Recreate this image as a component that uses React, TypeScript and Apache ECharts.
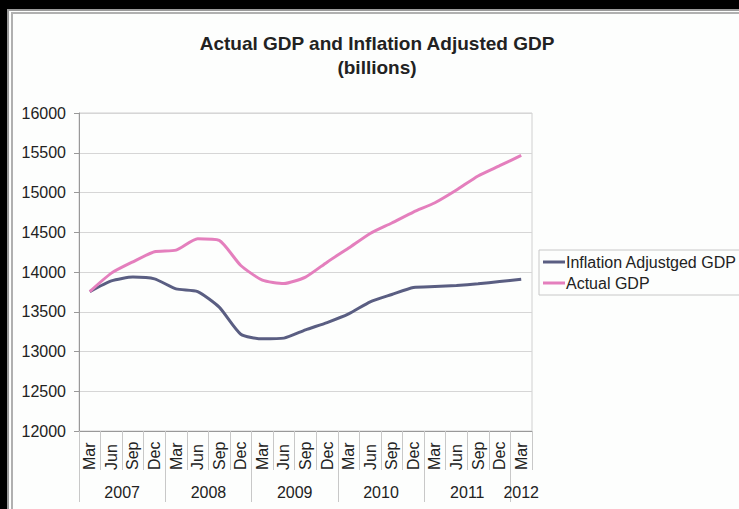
import React, { useEffect, useRef } from "react";
import * as echarts from "echarts";

const quarterLabels = [
  "Mar", "Jun", "Sep", "Dec",
  "Mar", "Jun", "Sep", "Dec",
  "Mar", "Jun", "Sep", "Dec",
  "Mar", "Jun", "Sep", "Dec",
  "Mar", "Jun", "Sep", "Dec",
  "Mar",
];
const yearLabels = ["2007", "2008", "2009", "2010", "2011", "2012"];
const quartersPerYear = [4, 4, 4, 4, 4, 1];

const inflationAdjusted = [
  13754, 13889, 13936, 13914, 13788, 13754, 13558, 13218, 13159, 13168, 13272,
  13364, 13473, 13625, 13717, 13805, 13817, 13830, 13851, 13880, 13910,
];
const actualGdp = [
  13754, 13986, 14128, 14254, 14275, 14418, 14397, 14082, 13898, 13855, 13936,
  14124, 14301, 14485, 14616, 14754, 14871, 15031, 15208, 15337, 15467,
];

// Year labels on a half-quarter grid (2 slots per quarter, 0..2N)
const nQ = quarterLabels.length;
const yearSlots: string[] = new Array(nQ * 2 + 1).fill("");
const dividerSlots = new Set<number>();
{
  let q = 0;
  yearLabels.forEach((y, i) => {
    const n = quartersPerYear[i];
    dividerSlots.add(q * 2);
    yearSlots[q * 2 + n] = y;
    q += n;
  });
}

const FONT = "'Liberation Sans', Arial, sans-serif";

export default function App() {
  const ref = useRef<HTMLDivElement>(null);
  useEffect(() => {
    if (!ref.current) return;
    const chart = echarts.init(ref.current, null, { renderer: "svg" });
    chart.setOption({
      animation: false,
      textStyle: { fontFamily: FONT },
      title: {
        text: "Actual GDP and Inflation Adjusted GDP\n(billions)",
        left: 377,
        textAlign: "center",
        top: 26,
        padding: [5, 0, 5, 0],
        textStyle: {
          fontFamily: FONT,
          fontSize: 19,
          fontWeight: "bold",
          color: "#222",
          lineHeight: 24,
        },
      },
      legend: {
        orient: "vertical",
        left: 539,
        top: 250,
        padding: [4, 6, 4, 4],
        itemGap: 5,
        itemWidth: 22,
        itemHeight: 3,
        icon: "rect",
        borderColor: "#c8c8c8",
        borderWidth: 1,
        textStyle: {
          fontFamily: FONT,
          fontSize: 16,
          color: "#222",
          lineHeight: 16,
          padding: [0, 0, 0, -4],
        },
        data: ["Inflation Adjustged GDP", "Actual GDP"],
      },
      grid: {
        left: 79,
        right: 207,
        top: 113,
        bottom: 78,
        show: true,
        borderColor: "#d0d0d0",
        borderWidth: 1,
      },
      xAxis: [
        {
          type: "category",
          data: quarterLabels,
          boundaryGap: true,
          axisLine: { show: true, lineStyle: { color: "#999", width: 1 } },
          axisTick: {
            show: true,
            interval: 0,
            length: 39,
            lineStyle: { color: "#c8c8c8" },
          },
          axisLabel: {
            interval: 0,
            rotate: 90,
            align: "left",
            verticalAlign: "middle",
            margin: 39,
            fontFamily: FONT,
            fontSize: 16,
            color: "#222",
          },
          splitLine: { show: false },
        },
        {
          type: "category",
          data: yearSlots,
          boundaryGap: false,
          position: "bottom",
          axisLine: { show: false },
          axisTick: {
            show: true,
            interval: (idx: number) => dividerSlots.has(idx),
            length: 71,
            lineStyle: { color: "#c8c8c8" },
          },
          axisLabel: {
            interval: (idx: number) => yearSlots[idx] !== "",
            margin: 53,
            fontFamily: FONT,
            fontSize: 16,
            color: "#222",
          },
          splitLine: { show: false },
        },
      ],
      yAxis: {
        type: "value",
        min: 12000,
        max: 16000,
        interval: 500,
        axisLine: { show: true, lineStyle: { color: "#999" } },
        axisTick: { show: true, length: 5, lineStyle: { color: "#999" } },
        axisLabel: {
          margin: 13,
          fontFamily: FONT,
          fontSize: 16,
          color: "#222",
          formatter: (v: number) => String(v),
        },
        splitLine: { show: true, lineStyle: { color: "#d6d6d6", width: 1 } },
      },
      series: [
        {
          name: "Inflation Adjustged GDP",
          type: "line",
          data: inflationAdjusted,
          smooth: 0.2,
          showSymbol: false,
          symbol: "none",
          lineStyle: { color: "#5a5e82", width: 3 },
          itemStyle: { color: "#5a5e82" },
        },
        {
          name: "Actual GDP",
          type: "line",
          data: actualGdp,
          smooth: 0.2,
          showSymbol: false,
          symbol: "none",
          lineStyle: { color: "#e47fbd", width: 3 },
          itemStyle: { color: "#e47fbd" },
        },
      ],
    });
    return () => chart.dispose();
  }, []);

  return (
    <div
      style={{
        position: "fixed",
        left: 0,
        top: 0,
        width: 739,
        height: 509,
        background: "#000",
        overflow: "hidden",
      }}
    >
      <div
        style={{
          position: "absolute",
          left: 7,
          top: 9,
          right: 0,
          bottom: 0,
          background: "#fdfefd",
          borderLeft: "2px solid #9a9a9a",
          borderTop: "2px solid #9a9a9a",
        }}
      />
      <div
        style={{
          position: "absolute",
          left: 11,
          top: 12,
          right: 0,
          bottom: 0,
          borderLeft: "2px solid #b0b0b0",
          borderTop: "2px solid #b0b0b0",
        }}
      />
      <div
        ref={ref}
        style={{ position: "absolute", left: 0, top: 0, width: 739, height: 509 }}
      />
    </div>
  );
}
